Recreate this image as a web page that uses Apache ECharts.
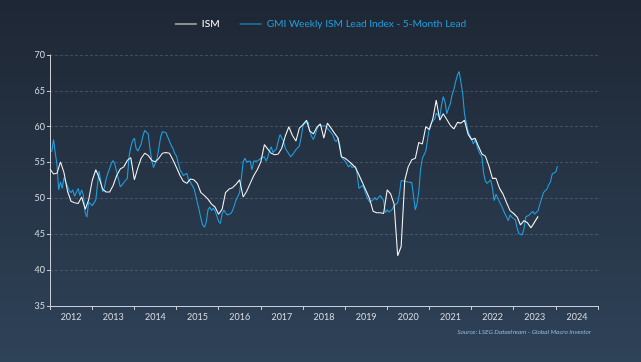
<!DOCTYPE html>
<html>
<head>
<meta charset="utf-8">
<script src="https://cdn.jsdelivr.net/npm/echarts@6/dist/echarts.min.js"></script>
<style>
html,body{margin:0;padding:0;}
#chart{width:641px;height:362px;}
</style>
</head>
<body>
<div id="chart"></div>
<script>
// ---- data ----
const years = ['2012','2013','2014','2015','2016','2017','2018','2019','2020','2021','2022','2023','2024'];
const yMin = 35, yMax = 70, yStep = 5;
const seriesNames = ['ISM', 'GMI Weekly ISM Lead Index - 5-Month Lead'];
const sourceText = 'Source: LSEG Datastream - Global Macro Investor';

// ISM monthly, Jan 2012 onwards
const ismStartYear = 2012;
const ismValues = [
  54.1, 53.4, 53.5, 55.1, 53.6, 51.0, 49.6, 49.4, 49.3, 50.2, 48.5, 49.8,
  52.5, 54.0, 52.9, 51.3, 50.9, 50.9, 51.8, 53.2, 54.1, 54.4, 55.3, 55.7,
  52.6, 54.3, 55.6, 56.3, 56.0, 55.3, 55.1, 55.6, 56.3, 56.4, 56.3, 55.4,
  54.3, 53.2, 52.4, 52.1, 52.7, 52.6, 52.1, 50.8, 50.4, 49.9, 49.2, 48.8,
  47.8, 48.5, 50.8, 51.3, 51.5, 52.0, 52.6, 50.2, 51.0, 52.1, 53.2, 54.0,
  55.1, 57.5, 56.9, 56.3, 56.1, 56.2, 57.0, 58.7, 60.0, 58.8, 58.0, 59.8,
  60.3, 60.9, 59.4, 59.0, 59.9, 60.4, 58.4, 60.5, 59.8, 59.1, 58.4, 55.8,
  55.6, 55.2, 54.8, 54.3, 53.3, 52.2, 51.1, 50.0, 48.2, 48.0, 48.0, 47.9,
  51.2, 50.6, 49.2, 42.0, 43.3, 52.5, 54.4, 55.4, 55.6, 57.8, 57.6, 60.0,
  59.6, 61.2, 63.7, 60.9, 61.8, 61.0, 60.2, 59.7, 60.6, 60.5, 60.9, 59.0,
  58.2, 58.4, 57.3, 56.2, 55.9, 54.5, 52.8, 52.8, 51.4, 50.6, 49.4, 48.3,
  47.9, 47.4, 46.3, 46.9, 46.6, 45.9, 46.7, 47.5
];

// GMI lead index, twice a month (16 Jan 2012, 1 Feb 2012, 16 Feb 2012, ...)
const gmiValues = [
  56.5, 58.2, 56.3, 54.8, 51.2, 52.3, 51.4, 52.9, 53.0, 51.7, 51.1, 50.8,
  51.2, 50.3, 50.3, 51.4, 50.4, 51.2, 50.5, 48.0, 47.4, 49.5, 49.4, 49.0,
  49.0, 49.8, 52.0, 53.8, 52.5, 50.9, 51.5, 52.7, 53.5, 54.2, 54.9, 55.3,
  54.8, 55.0, 52.7, 51.6, 51.9, 52.0, 52.5, 52.8, 55.8, 57.2, 58.0, 58.4,
  57.0, 56.6, 56.5, 57.6, 58.7, 59.5, 59.7, 59.0, 57.0, 55.3, 54.3, 54.3,
  55.5, 57.0, 58.5, 59.3, 59.3, 59.2, 59.4, 58.0, 57.4, 57.0, 56.3, 55.9,
  55.0, 54.0, 53.6, 53.2, 53.0, 53.5, 52.6, 52.3, 52.5, 51.4, 50.5, 49.4,
  48.4, 47.2, 46.3, 46.0, 46.7, 48.4, 48.8, 48.3, 48.6, 48.3, 47.6, 46.8,
  46.5, 47.9, 48.4, 48.0, 47.7, 47.5, 47.9, 48.3, 49.0, 49.8, 50.0, 50.8,
  52.8, 55.1, 55.6, 55.1, 55.1, 55.2, 54.0, 55.2, 55.2, 55.2, 55.4, 55.6,
  55.7, 55.8, 55.2, 55.7, 56.6, 57.2, 56.4, 56.3, 56.9, 58.0, 58.9, 58.7,
  58.0, 57.0, 56.9, 56.2, 55.8, 56.0, 56.4, 56.8, 56.8, 57.3, 58.5, 60.1,
  60.5, 60.6, 60.6, 59.4, 58.7, 58.2, 58.8, 59.6, 60.2, 60.0, 60.1, 60.2,
  60.1, 59.8, 59.5, 59.3, 58.9, 58.2, 57.9, 58.4, 57.5, 55.8, 55.5, 55.2,
  54.8, 54.4, 54.7, 54.3, 54.3, 54.5, 53.4, 51.4, 51.4, 51.8, 51.3, 50.6,
  50.0, 49.5, 49.3, 49.8, 50.1, 49.8, 49.6, 50.4, 50.1, 49.7, 48.0, 48.4,
  48.1, 48.1, 48.5, 49.0, 49.2, 49.4, 50.6, 52.5, 52.5, 52.4, 52.4, 52.3,
  52.3, 52.2, 50.4, 48.4, 49.3, 51.0, 54.0, 55.6, 55.8, 56.6, 58.2, 59.9,
  60.5, 60.7, 61.1, 61.9, 61.7, 61.3, 63.0, 64.2, 63.5, 61.8, 62.6, 63.2,
  64.4, 65.2, 66.3, 67.2, 67.7, 67.5, 64.7, 61.8, 60.6, 59.5, 58.8, 58.3,
  57.6, 58.2, 57.4, 56.7, 56.2, 55.8, 53.5, 52.4, 52.1, 52.3, 52.6, 51.5,
  49.7, 50.6, 50.8, 49.5, 49.0, 48.5, 47.9, 47.4, 46.9, 47.7, 47.4, 47.5,
  47.0, 45.8, 45.1, 45.0, 44.9, 45.8, 47.4, 47.6, 47.7, 47.9, 48.2, 47.8,
  48.0, 48.3, 49.2, 50.0, 50.8, 50.8, 51.3, 51.9, 52.3, 53.4, 53.3, 53.7,
  54.5
];

// ---- build series data ----
const ismData = ismValues.map((v, i) =>
  [Date.UTC(ismStartYear + Math.floor(i / 12), i % 12, 1), v]);
const gmiData = gmiValues.map((v, j) => {
  const k = j + 1;
  return [Date.UTC(2012, Math.floor(k / 2), (k % 2 === 1) ? 16 : 1), v];
});

const chart = echarts.init(document.getElementById('chart'), null, {renderer: 'canvas'});
const axisColor = '#c9ced6';
const fontFam = 'Lato, "Liberation Sans", sans-serif';

chart.setOption({
  animation: false,
  backgroundColor: new echarts.graphic.LinearGradient(0, 0, 0, 1, [
    {offset: 0, color: '#1e2734'},
    {offset: 1, color: '#2e4258'}
  ]),
  legend: {
    top: 14,
    left: 'center',
    itemWidth: 22,
    itemHeight: 10,
    itemGap: 20,
    icon: 'path://M0,5 L22,5 L22,6 L0,6 Z',
    textStyle: {fontFamily: fontFam, fontSize: 10.2, color: '#ffffff'},
    data: [
      {name: seriesNames[0], textStyle: {color: '#ffffff'}},
      {name: seriesNames[1], textStyle: {color: '#1f9fe0'}}
    ]
  },
  grid: {left: 50, right: 43, top: 55, bottom: 56, containLabel: false},
  xAxis: [
    {
      type: 'category',
      data: years,
      boundaryGap: true,
      axisLine: {show: true, lineStyle: {color: axisColor, width: 1}},
      axisTick: {show: true, inside: false, length: 4, lineStyle: {color: axisColor}},
      axisLabel: {color: '#d6dae0', fontSize: 9, fontFamily: fontFam, margin: 7},
      splitLine: {show: false}
    },
    {
      type: 'time',
      min: Date.UTC(2012, 0, 1),
      max: Date.UTC(2025, 0, 1),
      show: false,
      splitLine: {show: false}
    }
  ],
  yAxis: {
    type: 'value',
    min: yMin, max: yMax, interval: yStep,
    axisLine: {show: true, lineStyle: {color: axisColor, width: 1}},
    axisTick: {show: true, length: 3, lineStyle: {color: axisColor}},
    axisLabel: {color: '#d6dae0', fontSize: 9, fontFamily: fontFam, margin: 5},
    splitLine: {show: true, lineStyle: {color: 'rgba(160,175,195,0.25)', type: [3, 2], width: 1}}
  },
  series: [
    {
      name: seriesNames[0],
      type: 'line',
      xAxisIndex: 1,
      data: ismData,
      showSymbol: false,
      symbol: 'none',
      z: 3,
      lineStyle: {color: '#f4f4f4', width: 1.1},
      itemStyle: {color: '#f4f4f4'}
    },
    {
      name: seriesNames[1],
      type: 'line',
      xAxisIndex: 1,
      data: gmiData,
      showSymbol: false,
      symbol: 'none',
      z: 2,
      lineStyle: {color: '#1f9fe0', width: 1.1},
      itemStyle: {color: '#1f9fe0'}
    }
  ],
  graphic: [{
    type: 'text',
    right: 50,
    top: 328,
    style: {
      text: sourceText,
      fill: '#8fb3d6',
      font: 'italic 6.5px ' + fontFam
    }
  }]
});
</script>
</body>
</html>
